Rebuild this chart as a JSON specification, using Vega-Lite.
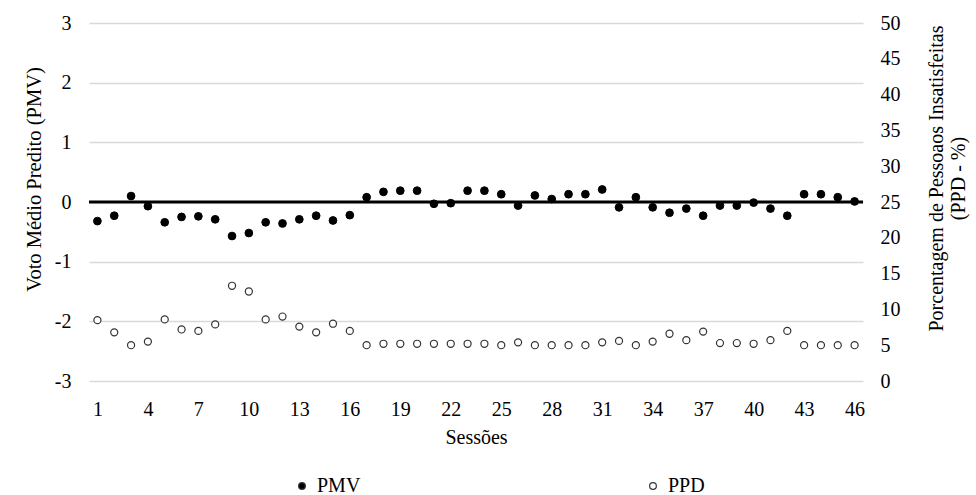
{
  "$schema": "https://vega.github.io/schema/vega-lite/v6.json",
  "width": 774,
  "height": 358,
  "autosize": "none",
  "padding": {"left": 89, "top": 23, "right": 113, "bottom": 114},
  "background": "white",
  "config": {
    "font": "Liberation Serif",
    "view": {"stroke": null},
    "axis": {
      "labelFont": "Liberation Serif",
      "titleFont": "Liberation Serif",
      "labelFontSize": 20,
      "titleFontSize": 20,
      "labelColor": "#000000",
      "titleColor": "#000000",
      "titleFontWeight": "normal",
      "ticks": false,
      "domain": false,
      "gridColor": "#d9d9d9",
      "gridWidth": 1.7
    },
    "legend": {
      "labelFont": "Liberation Serif",
      "labelFontSize": 20,
      "labelColor": "#000000",
      "symbolStrokeColor": "#333333",
      "symbolStrokeWidth": 1.2
    }
  },
  "data": {
    "values": [
      {"s": 1, "PMV": -0.32, "PPD": 8.5},
      {"s": 2, "PMV": -0.23, "PPD": 6.8},
      {"s": 3, "PMV": 0.10, "PPD": 5.0},
      {"s": 4, "PMV": -0.07, "PPD": 5.5},
      {"s": 5, "PMV": -0.34, "PPD": 8.6},
      {"s": 6, "PMV": -0.25, "PPD": 7.2},
      {"s": 7, "PMV": -0.24, "PPD": 7.0},
      {"s": 8, "PMV": -0.29, "PPD": 7.9},
      {"s": 9, "PMV": -0.57, "PPD": 13.3},
      {"s": 10, "PMV": -0.52, "PPD": 12.5},
      {"s": 11, "PMV": -0.34, "PPD": 8.6},
      {"s": 12, "PMV": -0.36, "PPD": 9.0},
      {"s": 13, "PMV": -0.29, "PPD": 7.6},
      {"s": 14, "PMV": -0.23, "PPD": 6.8},
      {"s": 15, "PMV": -0.31, "PPD": 8.0},
      {"s": 16, "PMV": -0.22, "PPD": 7.0},
      {"s": 17, "PMV": 0.08, "PPD": 5.0},
      {"s": 18, "PMV": 0.17, "PPD": 5.2},
      {"s": 19, "PMV": 0.19, "PPD": 5.2},
      {"s": 20, "PMV": 0.19, "PPD": 5.2},
      {"s": 21, "PMV": -0.03, "PPD": 5.2},
      {"s": 22, "PMV": -0.02, "PPD": 5.2},
      {"s": 23, "PMV": 0.19, "PPD": 5.2},
      {"s": 24, "PMV": 0.19, "PPD": 5.2},
      {"s": 25, "PMV": 0.13, "PPD": 5.0},
      {"s": 26, "PMV": -0.06, "PPD": 5.4},
      {"s": 27, "PMV": 0.11, "PPD": 5.0},
      {"s": 28, "PMV": 0.05, "PPD": 5.0},
      {"s": 29, "PMV": 0.13, "PPD": 5.0},
      {"s": 30, "PMV": 0.13, "PPD": 5.0},
      {"s": 31, "PMV": 0.21, "PPD": 5.4},
      {"s": 32, "PMV": -0.09, "PPD": 5.6},
      {"s": 33, "PMV": 0.08, "PPD": 5.0},
      {"s": 34, "PMV": -0.09, "PPD": 5.5},
      {"s": 35, "PMV": -0.18, "PPD": 6.6},
      {"s": 36, "PMV": -0.11, "PPD": 5.7},
      {"s": 37, "PMV": -0.23, "PPD": 6.9},
      {"s": 38, "PMV": -0.06, "PPD": 5.3},
      {"s": 39, "PMV": -0.06, "PPD": 5.3},
      {"s": 40, "PMV": -0.01, "PPD": 5.2},
      {"s": 41, "PMV": -0.11, "PPD": 5.7},
      {"s": 42, "PMV": -0.23, "PPD": 7.0},
      {"s": 43, "PMV": 0.13, "PPD": 5.0},
      {"s": 44, "PMV": 0.13, "PPD": 5.0},
      {"s": 45, "PMV": 0.08, "PPD": 5.0},
      {"s": 46, "PMV": 0.01, "PPD": 5.0}
    ]
  },
  "encoding": {
    "x": {
      "field": "s",
      "type": "quantitative",
      "scale": {"domain": [0.5, 46.5], "nice": false},
      "axis": {
        "values": [1, 4, 7, 10, 13, 16, 19, 22, 25, 28, 31, 34, 37, 40, 43, 46],
        "labelExpr": "'' + datum.value",
        "labelFont": "Liberation Serif",
        "grid": false,
        "title": "Sessões",
        "labelPadding": 18,
        "titlePadding": 8
      }
    }
  },
  "layer": [
    {
      "layer": [
        {
          "data": {"values": [{"PMV": 0}]},
          "mark": {"type": "rule", "color": "#000000", "strokeWidth": 3.2},
          "encoding": {
            "x": null,
            "y": {"field": "PMV", "type": "quantitative"}
          }
        },
        {
          "mark": {"type": "point", "shape": "circle", "filled": true, "size": 60, "stroke": "#000000", "strokeWidth": 1, "opacity": 1},
          "encoding": {
            "y": {
              "field": "PMV",
              "type": "quantitative",
              "scale": {"domain": [-3, 3], "nice": false, "zero": false},
              "axis": {
                "orient": "left",
                "values": [-3, -2, -1, 0, 1, 2, 3],
                "labelExpr": "'' + datum.value",
                "labelFont": "Liberation Serif",
                "grid": true,
                "title": "Voto Médio Predito (PMV)",
                "titleFontSize": 20.5,
                "labelPadding": 18,
                "titlePadding": 10,
                "titleY": 156
              }
            },
            "fill": {
              "datum": "PMV",
              "type": "nominal",
              "scale": {"domain": ["PMV", "PPD"], "range": ["#000000", "#ffffff"]},
              "legend": {
                "orient": "none",
                "legendX": 203,
                "legendY": 453,
                "direction": "horizontal",
                "title": null,
                "columnPadding": 282,
                "symbolType": "circle",
                "symbolSize": 45,
                "labelOffset": 5
              }
            }
          }
        }
      ]
    },
    {
      "mark": {"type": "point", "shape": "circle", "filled": true, "size": 50, "stroke": "#333333", "strokeWidth": 1.2, "opacity": 1},
      "encoding": {
        "y": {
          "field": "PPD",
          "type": "quantitative",
          "scale": {"domain": [0, 50], "nice": false},
          "axis": {
            "orient": "right",
            "values": [0, 5, 10, 15, 20, 25, 30, 35, 40, 45, 50],
            "labelExpr": "'' + datum.value",
            "labelFont": "Liberation Serif",
            "grid": false,
            "title": ["Porcentagem de Pessoaos Insatisfeitas", "(PPD - %)"],
            "titleAngle": 270,
            "labelPadding": 17,
            "titlePadding": 24,
            "titleY": 155
          }
        },
        "fill": {"datum": "PPD", "type": "nominal"}
      }
    }
  ],
  "resolve": {"scale": {"y": "independent"}, "axis": {"y": "independent"}}
}
